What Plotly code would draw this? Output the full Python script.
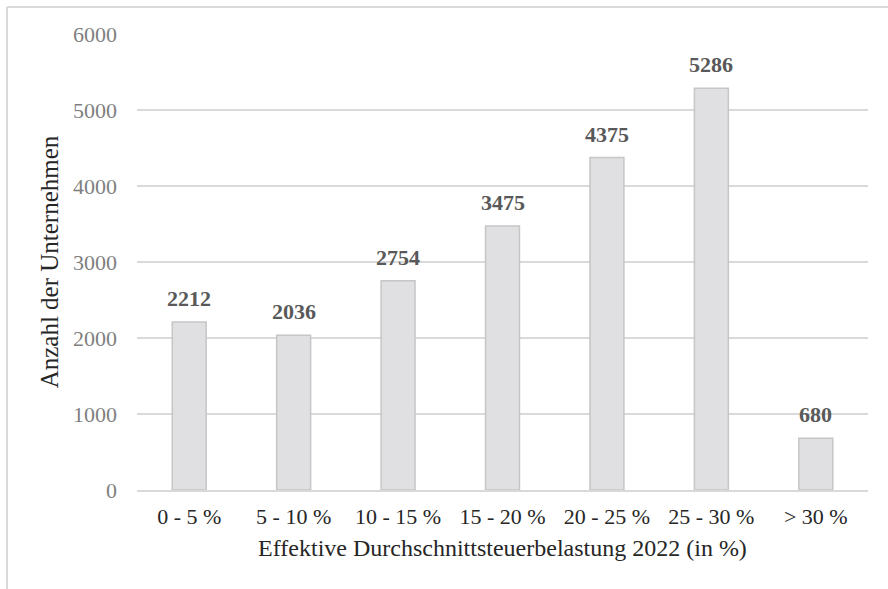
import plotly.graph_objects as go

categories = ["0 - 5 %", "5 - 10 %", "10 - 15 %", "15 - 20 %", "20 - 25 %", "25 - 30 %", "> 30 %"]
values = [2212, 2036, 2754, 3475, 4375, 5286, 680]
y_ticks = [0, 1000, 2000, 3000, 4000, 5000, 6000]

FONT = "Liberation Serif"
L, R, T, B = 137, 20, 34, 99
W, H = 888, 589
pw, ph = W - L - R, H - T - B

fig = go.Figure()
fig.add_trace(go.Bar(
    x=categories, y=values,
    marker=dict(color="#e0e0e2", line=dict(color="#c6c6c6", width=1.5)),
    hoverinfo="skip",
))

for c, v in zip(categories, values):
    fig.add_annotation(x=c, y=v, text="<b>%d</b>" % v, showarrow=False,
                       yanchor="bottom", yshift=9,
                       font=dict(family=FONT, size=22, color="#595959"))

# outer chart border (left and top)
x0 = (7 - L) / pw
y0 = 1 + (T - 7) / ph
fig.add_shape(type="line", xref="paper", yref="paper", x0=x0, x1=x0, y0=-1, y1=y0,
              line=dict(color="#d9d9d9", width=2))
fig.add_shape(type="line", xref="paper", yref="paper", x0=x0, x1=1.2, y0=y0, y1=y0,
              line=dict(color="#d9d9d9", width=2))

fig.update_layout(
    width=W, height=H,
    margin=dict(l=L, r=R, t=T, b=B, autoexpand=False),
    paper_bgcolor="white", plot_bgcolor="white",
    bargap=0.675,
    showlegend=False,
    font=dict(family=FONT),
    xaxis=dict(
        tickfont=dict(family=FONT, size=22, color="#262626"),
        title=dict(text="Effektive Durchschnittsteuerbelastung 2022 (in %)",
                   font=dict(family=FONT, size=24, color="#262626"), standoff=11),
        showline=True, linecolor="#d9d9d9", linewidth=1.5,
        showgrid=False, ticks="", ticklabelstandoff=6,
    ),
    yaxis=dict(
        range=[0, 6000], tickvals=y_ticks,
        tickfont=dict(family=FONT, size=22, color="#7f7f7f"),
        title=dict(text="Anzahl der Unternehmen",
                   font=dict(family=FONT, size=25, color="#262626"), standoff=7),
        showgrid=True, gridcolor="#d9d9d9", gridwidth=1.5,
        zeroline=False, ticks="", ticklabelstandoff=19,
    ),
)

fig.write_html("out.html", config={"displayModeBar": False},
               post_script="document.body.style.margin='0';document.body.style.overflow='hidden';")
